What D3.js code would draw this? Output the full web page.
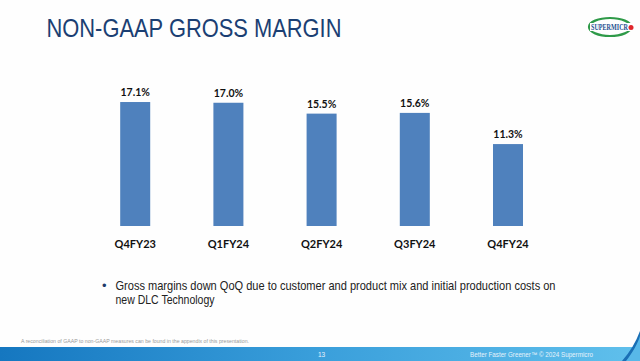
<!DOCTYPE html>
<html><head><meta charset="utf-8">
<script src="https://cdn.jsdelivr.net/npm/d3@7"></script>
<style>html,body{margin:0;padding:0;background:#fff;overflow:hidden}</style>
</head><body>
<svg id="c" width="640" height="361"></svg>
<script>
const categories = ["Q4FY23","Q1FY24","Q2FY24","Q3FY24","Q4FY24"];
const values = [17.1, 17.0, 15.5, 15.6, 11.3];
const valueLabels = ["17.1%","17.0%","15.5%","15.6%","11.3%"];
const title = "NON-GAAP GROSS MARGIN";
const bulletLines = ["Gross margins down QoQ due to customer and product mix and initial production costs on","new DLC Technology"];
const footnote = "A reconciliation of GAAP to non-GAAP measures can be found in the appendix of this presentation.";
const pageNum = "13";
const tagline = "Better Faster Greener\u2122  \u00A9 2024 Supermicro";

const svg = d3.select("#c");
svg.append("rect").attr("width",640).attr("height",361).attr("fill","#fefefe");

// title
svg.append("text").attr("x",46.5).attr("y",37)
  .attr("font-family","'Liberation Sans Narrow','Liberation Sans',Arial,sans-serif")
  .attr("font-size",26).attr("fill","#1b3f73")
  .attr("textLength",295).attr("lengthAdjust","spacingAndGlyphs")
  .text(title);

// logo
const logo = svg.append("g");
logo.append("ellipse").attr("cx",610).attr("cy",27).attr("rx",21).attr("ry",9)
  .attr("fill","none").attr("stroke","#2e9a48").attr("stroke-width",2.2);
logo.append("rect").attr("x",590).attr("y",23).attr("width",42).attr("height",8).attr("fill","#fff");
logo.append("text").attr("x",591).attr("y",30).attr("font-family","'Liberation Serif',serif")
  .attr("font-size",7.5).attr("font-weight","bold").attr("fill","#1d4e8f")
  .attr("textLength",37).attr("lengthAdjust","spacingAndGlyphs").text("SUPERMICR");
logo.append("circle").attr("cx",631).attr("cy",27.5).attr("r",2.5).attr("fill","#e0262b");

// chart
const x = d3.scaleBand().domain(categories).range([88.6,554.6]).paddingInner(0.678).paddingOuter(0.339);
const y = d3.scaleLinear().domain([0,20]).range([226,81]);

svg.append("g").selectAll("rect").data(values).join("rect")
  .attr("x",(d,i)=>x(categories[i])).attr("width",x.bandwidth())
  .attr("y",d=>y(d)).attr("height",d=>y(0)-y(d))
  .attr("fill","#4f81bd");

svg.append("g").selectAll("text").data(values).join("text")
  .attr("x",(d,i)=>x(categories[i])+x.bandwidth()/2).attr("y",d=>y(d)-6)
  .attr("text-anchor","middle").attr("font-family","Lato,'Open Sans',sans-serif")
  .attr("font-weight","bold").attr("font-size",10.5).attr("fill","#111")
  .text((d,i)=>valueLabels[i]);

const xAxis = svg.append("g").attr("transform","translate(0,226)")
  .call(d3.axisBottom(x).tickSize(0).tickPadding(14));
xAxis.select(".domain").remove();
xAxis.selectAll("text").attr("font-family","Lato,'Open Sans',sans-serif")
  .attr("font-weight","bold").attr("font-size",11).attr("fill","#111");

// bullet
svg.append("text").attr("x",102).attr("y",289.5).attr("font-family","'Liberation Sans',Arial,sans-serif")
  .attr("font-size",13).attr("fill","#1f3b6a").text("\u2022");
svg.append("text").attr("x",115.5).attr("y",289.5).attr("font-family","'Liberation Sans',Arial,sans-serif")
  .attr("font-size",13).attr("fill","#222").attr("textLength",440).attr("lengthAdjust","spacingAndGlyphs")
  .text(bulletLines[0]);
svg.append("text").attr("x",115.5).attr("y",304).attr("font-family","'Liberation Sans',Arial,sans-serif")
  .attr("font-size",13).attr("fill","#222").attr("textLength",99).attr("lengthAdjust","spacingAndGlyphs")
  .text(bulletLines[1]);

// footnote
svg.append("text").attr("x",21).attr("y",343).attr("font-family","'Liberation Sans',Arial,sans-serif")
  .attr("font-size",5).attr("fill","#9a9a9a").attr("textLength",228).attr("lengthAdjust","spacingAndGlyphs")
  .text(footnote);

// footer band
const defs = svg.append("defs");
const g = defs.append("linearGradient").attr("id","fb").attr("x1","0").attr("x2","1");
g.append("stop").attr("offset","0").attr("stop-color","#1577c0");
g.append("stop").attr("offset","0.5").attr("stop-color","#3a9fdb");
g.append("stop").attr("offset","1").attr("stop-color","#60c0ec");
svg.append("rect").attr("x",0).attr("y",347).attr("width",640).attr("height",14).attr("fill","url(#fb)");
svg.append("path").attr("d","M622,361 C630,352 636,342 640,331 L640,361 Z").attr("fill","#1a6fb5");
svg.append("path").attr("d","M626,361 C633,352 638,343 640,336 L640,361 Z").attr("fill","#58b8e8");
svg.append("text").attr("x",318).attr("y",357).attr("font-family","'Liberation Sans',Arial,sans-serif")
  .attr("font-size",6.5).attr("fill","#e6f2fb").text(pageNum);
svg.append("text").attr("x",470).attr("y",357).attr("font-family","'Liberation Sans',Arial,sans-serif")
  .attr("font-size",6.5).attr("fill","#e6f2fb").attr("textLength",123).attr("lengthAdjust","spacingAndGlyphs")
  .text(tagline);
</script>
</body></html>
